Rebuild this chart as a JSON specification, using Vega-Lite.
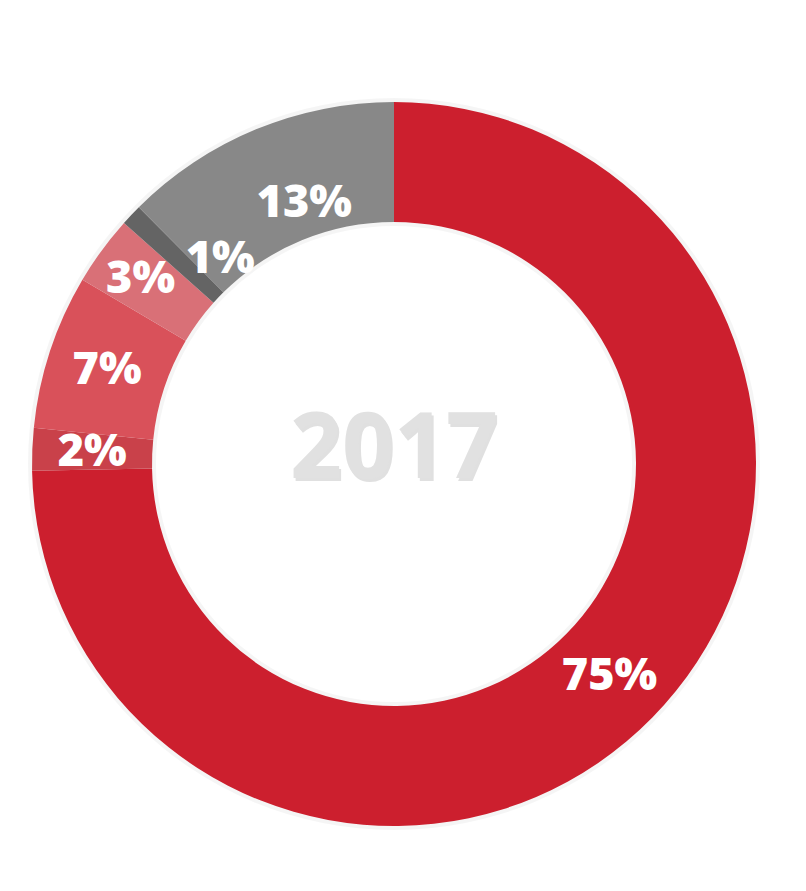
{
  "$schema": "https://vega.github.io/schema/vega-lite/v6.json",
  "autosize": "none",
  "width": 788,
  "height": 928,
  "padding": {"left": 0, "top": 0, "right": 18, "bottom": 0},
  "background": "white",
  "data": {
    "values": [
      {"category": "A", "order": 1, "value": 74.7, "label": "75%"},
      {"category": "B", "order": 2, "value": 1.9, "label": "2%"},
      {"category": "C", "order": 3, "value": 6.9, "label": "7%"},
      {"category": "D", "order": 4, "value": 3.1, "label": "3%"},
      {"category": "E", "order": 5, "value": 0.95, "label": "1%"},
      {"category": "F", "order": 6, "value": 12.45, "label": "13%"}
    ]
  },
  "layer": [
    {
      "data": {"values": [{"ring": 1}]},
      "mark": {"type": "arc", "outerRadius": 366, "innerRadius": 238, "color": "#000000", "opacity": 0.04},
      "encoding": {}
    },
    {
      "mark": {"type": "arc", "outerRadius": 362, "innerRadius": 242, "stroke": null},
      "encoding": {
        "theta": {"field": "value", "type": "quantitative", "stack": true},
        "order": {"field": "order", "type": "quantitative"},
        "color": {
          "field": "category",
          "type": "nominal",
          "legend": null,
          "scale": {
            "domain": ["A", "B", "C", "D", "E", "F"],
            "range": ["#CC1F2E", "#C9414A", "#D9515A", "#D97077", "#646464", "#888888"]
          }
        }
      }
    },
    {
      "mark": {"type": "text", "radius": 302, "font": "Open Sans", "fontWeight": 800, "fontSize": 45, "color": "white", "align": "center", "baseline": "middle"},
      "encoding": {
        "theta": {"field": "value", "type": "quantitative", "stack": true},
        "order": {"field": "order", "type": "quantitative"},
        "text": {"condition": {"test": "indexof(['A','B','C'], datum.category) >= 0", "field": "label"}, "value": ""}
      }
    },
    {
      "mark": {"type": "text", "radius": 314, "font": "Open Sans", "fontWeight": 800, "fontSize": 45, "color": "white", "align": "center", "baseline": "middle"},
      "encoding": {
        "theta": {"field": "value", "type": "quantitative", "stack": true},
        "order": {"field": "order", "type": "quantitative"},
        "text": {"condition": {"test": "datum.category === 'D'", "field": "label"}, "value": ""}
      }
    },
    {
      "mark": {"type": "text", "radius": 269, "thetaOffset": 0.11, "font": "Open Sans", "fontWeight": 800, "fontSize": 45, "color": "white", "align": "center", "baseline": "middle"},
      "encoding": {
        "theta": {"field": "value", "type": "quantitative", "stack": true},
        "order": {"field": "order", "type": "quantitative"},
        "text": {"condition": {"test": "datum.category === 'E'", "field": "label"}, "value": ""}
      }
    },
    {
      "mark": {"type": "text", "radius": 276, "thetaOffset": 0.06, "font": "Open Sans", "fontWeight": 800, "fontSize": 45, "color": "white", "align": "center", "baseline": "middle"},
      "encoding": {
        "theta": {"field": "value", "type": "quantitative", "stack": true},
        "order": {"field": "order", "type": "quantitative"},
        "text": {"condition": {"test": "datum.category === 'F'", "field": "label"}, "value": ""}
      }
    },
    {
      "data": {"values": [{"year": "2017"}]},
      "mark": {"type": "text", "font": "Open Sans", "fontWeight": "bold", "fontSize": 91, "color": "#9a9a9a", "opacity": 0.3, "align": "center", "baseline": "middle", "dx": 2, "dy": -10},
      "encoding": {"text": {"field": "year"}}
    },
    {
      "data": {"values": [{"year": "2017"}]},
      "mark": {"type": "text", "font": "Open Sans", "fontWeight": "bold", "fontSize": 91, "color": "#E1E1E1", "align": "center", "baseline": "middle", "dy": -13},
      "encoding": {"text": {"field": "year"}}
    }
  ]
}
